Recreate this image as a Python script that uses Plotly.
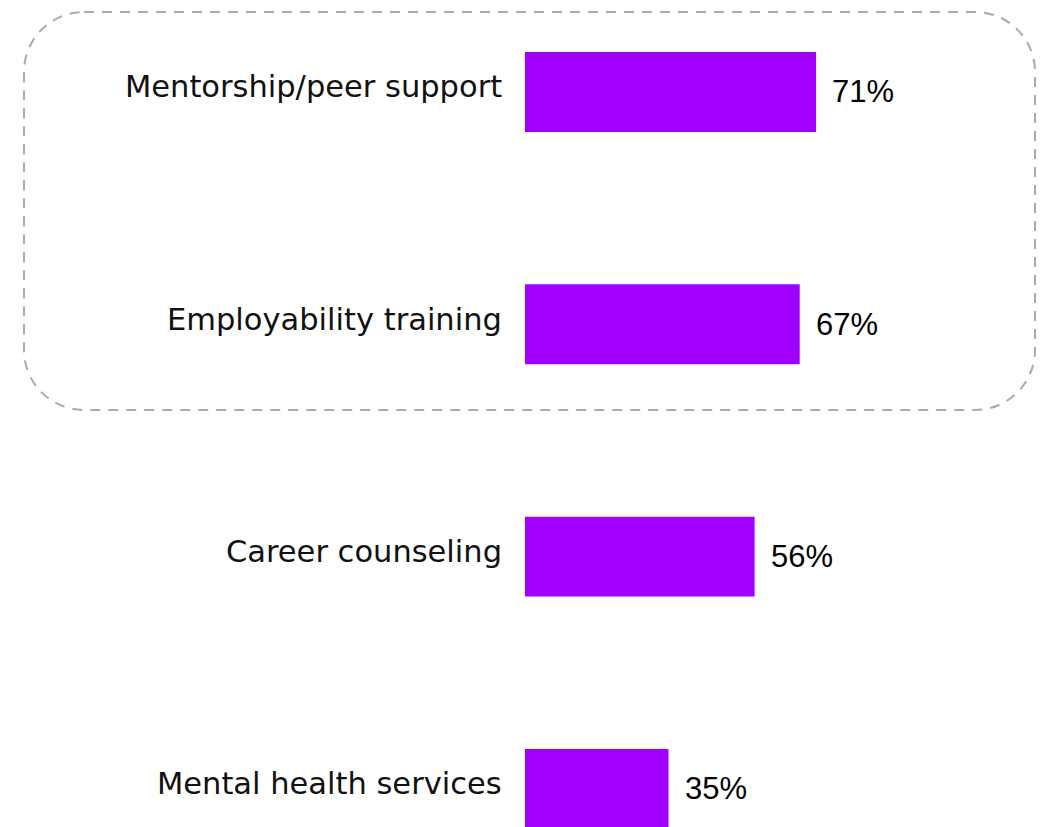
import plotly.graph_objects as go

# Share of respondents naming each type of support
categories = [
    "Mentorship/peer support",
    "Employability training",
    "Career counseling",
    "Mental health services",
]
values = [71, 67, 56, 35]
value_labels = ["71%", "67%", "56%", "35%"]

BAR_COLOR = "#A100FF"
W, H = 1049, 827
M_LEFT, M_RIGHT = 525, 114
PLOT_W = W - M_LEFT - M_RIGHT

positions = list(range(len(categories)))


def px_to_paper_x(px):
    return (px - M_LEFT) / PLOT_W


def px_to_paper_y(py):
    return 1 - py / H


fig = go.Figure(
    go.Bar(
        y=positions,
        x=values,
        orientation="h",
        width=0.344,
        marker=dict(color=BAR_COLOR, line=dict(width=0)),
        hoverinfo="skip",
    )
)

annotations = []
for pos, cat, val, lab in zip(positions, categories, values, value_labels):
    annotations.append(dict(
        x=0, y=pos, xref="x", yref="y", text=cat, showarrow=False,
        xanchor="right", yanchor="middle", xshift=-21, yshift=5,
        font=dict(family="DejaVu Sans, sans-serif", size=30.5, color="#111111"),
    ))
    annotations.append(dict(
        x=val, y=pos, xref="x", yref="y", text=lab, showarrow=False,
        xanchor="left", yanchor="middle", xshift=14, yshift=0,
        font=dict(family="Liberation Sans, Arial, sans-serif", size=31, color="#000000"),
    ))

# Dashed rounded frame around the two leading items
left, right, top, bottom, r = 24, 1035, 12, 410, 60
k = 0.5523 * r
X = px_to_paper_x
Y = px_to_paper_y
path = (
    f"M {X(left + r)},{Y(top)} L {X(right - r)},{Y(top)} "
    f"C {X(right - r + k)},{Y(top)} {X(right)},{Y(top + r - k)} {X(right)},{Y(top + r)} "
    f"L {X(right)},{Y(bottom - r)} "
    f"C {X(right)},{Y(bottom - r + k)} {X(right - r + k)},{Y(bottom)} {X(right - r)},{Y(bottom)} "
    f"L {X(left + r)},{Y(bottom)} "
    f"C {X(left + r - k)},{Y(bottom)} {X(left)},{Y(bottom - r + k)} {X(left)},{Y(bottom - r)} "
    f"L {X(left)},{Y(top + r)} "
    f"C {X(left)},{Y(top + r - k)} {X(left + r - k)},{Y(top)} {X(left + r)},{Y(top)} Z"
)

fig.update_layout(
    width=W,
    height=H,
    margin=dict(l=M_LEFT, r=M_RIGHT, t=0, b=0),
    paper_bgcolor="white",
    plot_bgcolor="white",
    showlegend=False,
    xaxis=dict(range=[0, 100], visible=False, fixedrange=True),
    yaxis=dict(range=[3.164, -0.396], visible=False, fixedrange=True),
    annotations=annotations,
    shapes=[dict(
        type="path", path=path, xref="paper", yref="paper",
        line=dict(color="#AAAAAA", width=2, dash="10px,8px"),
        fillcolor="rgba(0,0,0,0)", layer="below",
    )],
)

fig.write_html("out.html")
